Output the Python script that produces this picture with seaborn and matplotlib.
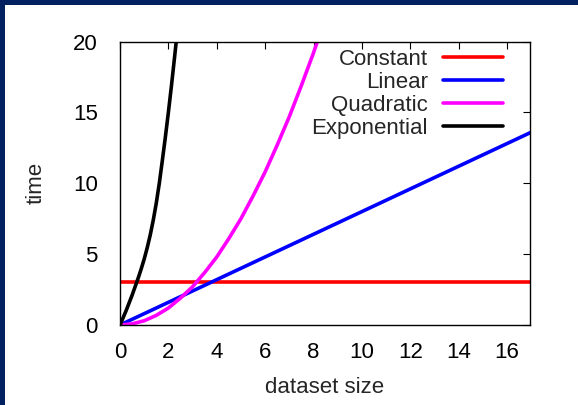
import numpy as np
import pandas as pd
import matplotlib
matplotlib.use("Agg")
import matplotlib.pyplot as plt
from matplotlib.patches import Rectangle
import seaborn as sns

# ---- data ----
const_x = [0, 17]
const_y = [3, 3]

linear_x = [0, 17]
linear_y = [0, 13.6]

quad_x = [0, 0.5, 1, 1.5, 2, 2.5, 3, 3.5, 4, 4.5, 5, 5.5, 6, 6.5, 7, 7.5, 8, 8.3]
quad_y = [0, 0.08, 0.3, 0.68, 1.2, 1.9, 2.7, 3.7, 4.8, 6.1, 7.5, 9.1, 10.8, 12.7, 14.7, 16.9, 19.2, 20.7]

expo_x = [0, 0.125, 0.25, 0.375, 0.5, 0.625, 0.75, 0.875, 1.0, 1.125, 1.25, 1.375,
          1.5, 1.625, 1.75, 1.875, 2.0, 2.125, 2.25, 2.375, 2.5]
expo_y = [0, 0.5, 1.0, 1.55, 2.1, 2.7, 3.3, 3.95, 4.65, 5.45, 6.35, 7.4,
          8.6, 10.0, 11.6, 13.25, 15.0, 16.85, 18.8, 20.8, 23.0]

x_ticks = [0, 2, 4, 6, 8, 10, 12, 14, 16]
y_ticks = [0, 5, 10, 15, 20]

# ---- style ----
sns.set_style("white")
plt.rcParams['font.family'] = ['Liberation Sans', 'DejaVu Sans']

fig = plt.figure(figsize=(5.78, 4.05), dpi=100)
fig.patch.set_facecolor("#002060")
fig.patches.append(Rectangle((5 / 578, 0), 1, 1 - 5 / 405, transform=fig.transFigure,
                             facecolor="white", edgecolor="none", zorder=-1))
ax = fig.add_axes([120 / 578, 1 - 325 / 405, 410 / 578, 283.5 / 405])

fs = 16
lw = 2.6
sns.lineplot(x=const_x, y=const_y, color="#ff0000", linewidth=lw, label="Constant", ax=ax)
sns.lineplot(x=linear_x, y=linear_y, color="#0000ff", linewidth=lw, label="Linear", ax=ax)
sns.lineplot(x=quad_x, y=quad_y, color="#ff00ff", linewidth=lw, label="Quadratic", ax=ax)
sns.lineplot(x=expo_x, y=expo_y, color="#000000", linewidth=lw, label="Exponential", ax=ax)

ax.set_xlim(0, 16.95)
ax.set_ylim(0, 20)
ax.set_xticks(x_ticks)
ax.set_yticks(y_ticks)
ax.tick_params(direction="in", top=True, right=True, length=5, width=0.8,
               labelsize=fs, colors="black")
ax.tick_params(axis="x", pad=12)
ax.tick_params(axis="y", pad=16)
for s in ax.spines.values():
    s.set_color("black")
    s.set_linewidth(1)

ax.set_xlabel("dataset size", fontsize=fs, labelpad=10)
ax.set_ylabel("time", fontsize=fs, labelpad=19)

ax.legend(loc="upper right", bbox_to_anchor=((503 - 120) / 410, 0.975), frameon=False,
          markerfirst=False, fontsize=fs, handlelength=2.7, handletextpad=0.68,
          labelspacing=0.1, borderpad=0, borderaxespad=0)

fig.savefig("out.png", dpi=100, facecolor=fig.get_facecolor())
